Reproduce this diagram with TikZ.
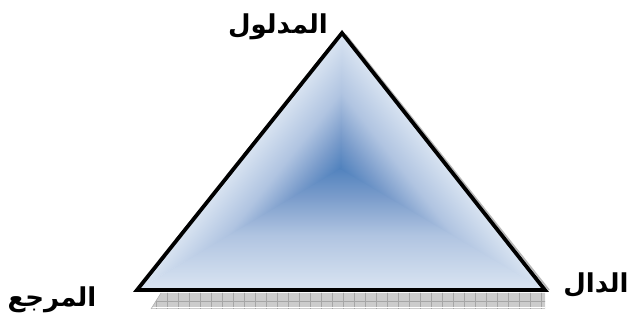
\documentclass[tikz,border=0pt]{standalone}
\usepackage{fontspec}
\newfontfamily\arabicfont[Script=Arabic]{DejaVu Sans}
\TeXXeTstate=1
\definecolor{trilight}{RGB}{221,231,243}
\definecolor{tridark}{RGB}{79,129,189}
\definecolor{trimid}{RGB}{176,196,225}
\definecolor{trimid2}{RGB}{122,156,203}
\pgfdeclareverticalshading{tri}{100bp}{color(0bp)=(tridark); color(25bp)=(tridark); color(37bp)=(trimid2); color(52bp)=(trimid); color(75bp)=(trilight); color(100bp)=(trilight)}
\tikzset{
  lbl/.style={font=\arabicfont\bfseries\fontsize{26}{30}\selectfont, inner sep=0pt},
  triedge/.style={draw=black, line width=3.8pt, line join=miter},
  shadowline/.style={draw=gray!55, line width=1.6pt}
}
\begin{document}
\begin{tikzpicture}[x=1pt,y=1pt]
\useasboundingbox (0,0) rectangle (633,329);
\coordinate (A) at (342,296);
\coordinate (B) at (137,39);
\coordinate (C) at (545,39);
\coordinate (P) at (341,161);
% shadow band
\fill[gray!40] (151,20) -- (161,36) -- (545,36) -- (545,20) -- cycle;
\begin{scope}
  \clip (151,20) -- (161,36) -- (545,36) -- (545,20) -- cycle;
  \foreach \xx in {156,167,...,545} \draw[gray!70, line width=0.5pt] (\xx,20) -- (\xx,37);
  \draw[gray!70, line width=0.5pt] (140,28) -- (546,28);
  \draw[white, line width=0.6pt] (140,22) -- (546,22);
\end{scope}
\draw[gray!60, line width=0.6pt] (151,20) -- (161,36);
% right edge shadow
\draw[shadowline] (346,294) -- (549,39);
% shaded fill: bottom (extended), right (extended), left (exact)
\begin{scope}
  \clip (B) -- (C) -- ([yshift=2]P) -- cycle;
  \shade[shading=tri, transform canvas={shift={(545,39)}, rotate=180}] (-4,4) rectangle (412,-124);
\end{scope}
\begin{scope}
  \clip ([xshift=-2]A) -- (C) -- ([xshift=-2]P) -- cycle;
  \shade[shading=tri, transform canvas={shift={(342,296)}, rotate=-51.69}] (-4,4) rectangle (332,-86);
\end{scope}
\begin{scope}
  \clip (A) -- (B) -- (P) -- cycle;
  \shade[shading=tri, transform canvas={shift={(137,39)}, rotate=51.43}] (-4,4) rectangle (333,-83.4);
\end{scope}
\draw[triedge] (A) -- (B) -- (C) -- cycle;
% labels
\node[lbl] (sig) at (278,302) {\beginR المدلول\endR};
\node[lbl] (ref) at (52,29) {\beginR المرجع\endR};
\node[lbl] (dal) at (596,44) {\beginR الدال\endR};
\end{tikzpicture}
\end{document}
